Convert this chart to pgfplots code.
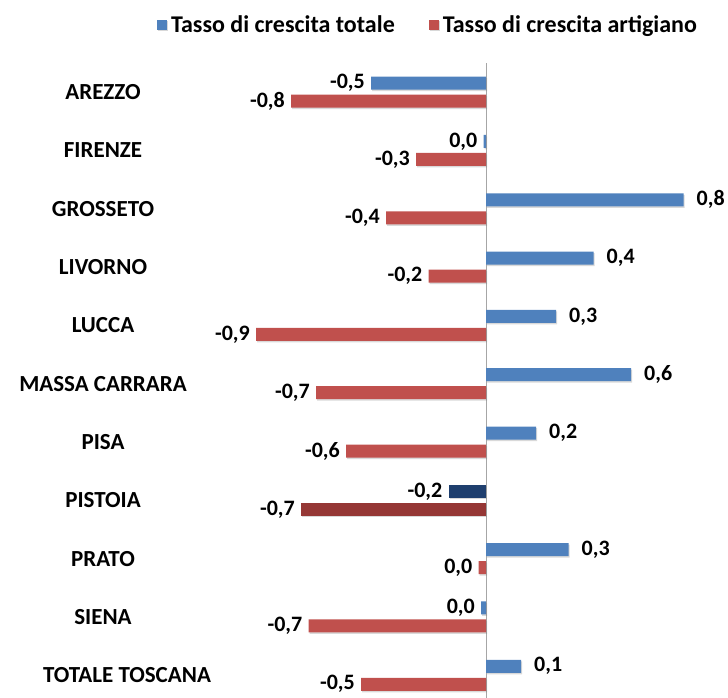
\documentclass[border=0pt]{standalone}
\usepackage{pgfplots}
\pgfplotsset{compat=1.18}
\usepackage{pgfplotstable}
\usepackage{fontspec}
\setmainfont{Carlito}
\usetikzlibrary{shadows}
\definecolor{cblue}{HTML}{4F81BD}
\definecolor{cred}{HTML}{C0504D}
\definecolor{dblue}{HTML}{1F3F6E}
\definecolor{dred}{HTML}{953735}
\pgfplotstableread{
y x lab
8 0.79 0,8
7 0.43 0,4
6 0.28 0,3
5 0.58 0,6
4 0.20 0,2
2 0.33 0,3
0 0.14 0,1
}\totpos
\pgfplotstableread{
y x lab
10 -0.46 -0,5
9 -0.01 0,0
1 -0.02 0,0
}\totneg
\pgfplotstableread{
y x lab
10 -0.78 -0,8
9 -0.28 -0,3
8 -0.40 -0,4
7 -0.23 -0,2
6 -0.92 -0,9
5 -0.68 -0,7
4 -0.56 -0,6
2 -0.03 0,0
1 -0.71 -0,7
0 -0.50 -0,5
}\artig
\pgfplotstableread{
y x lab
3 -0.15 -0,2
}\pistot
\pgfplotstableread{
y x lab
3 -0.74 -0,7
}\pistart
\pgfplotsset{
  mybar/.style 2 args={draw=none, drop shadow={shadow xshift=1pt, shadow yshift=-1.5pt, opacity=0.3},
    point meta=explicit symbolic,
    nodes near coords,
    every node near coord/.append style={anchor=#1, xshift=#2, font=\fontsize{22}{26}\selectfont\bfseries, inner xsep=6pt, inner ysep=0pt, text=black}},
}
\begin{document}
\begin{tikzpicture}
\useasboundingbox (0,0) rectangle (728pt,698pt);
\begin{axis}[
  at={(215pt,0pt)}, anchor=south west,
  scale only axis, width=500pt, height=635pt,
  xmin=-1.084, xmax=0.916, ymin=-0.39, ymax=10.5,
  xbar, bar width=13pt,
  axis line style={draw=none},
  xtick=\empty,
  extra x ticks={0}, extra x tick labels={},
  extra x tick style={grid=major, major grid style={draw=gray!70, line width=0.8pt}, major tick length=0pt},
  ytick={0,...,10},
  yticklabels={\hspace*{48pt}TOTALE TOSCANA,SIENA,PRATO,PISTOIA,PISA,MASSA CARRARA,LUCCA,LIVORNO,GROSSETO,FIRENZE,AREZZO},
  major tick length=0pt,
  yticklabel style={anchor=center, inner sep=0pt, xshift=-112pt, font=\fontsize{23}{27}\selectfont\bfseries},
  clip=false,
  legend columns=2,
  legend style={draw=none, at={(axis description cs:0.426,1.06)}, anchor=center, font=\fontsize{24}{28}\selectfont\bfseries,
    /tikz/every odd column/.append style={column sep=2pt},
    /tikz/every even column/.append style={column sep=32pt}},
  legend image code/.code={\fill[#1] (0pt,-5pt) rectangle (10pt,5pt);},
]
\addplot[fill=cblue, bar shift=9pt, mybar={west}{7pt}] table[x=x, y=y, meta=lab] {\totpos};
\addlegendentry{Tasso di crescita totale}
\addplot[fill=cred, bar shift=-9pt, mybar={east}{0pt}] table[x=x, y=y, meta=lab] {\artig};
\addlegendentry{Tasso di crescita artigiano}
\addplot[fill=cblue, bar shift=9pt, forget plot, mybar={east}{0pt}] table[x=x, y=y, meta=lab] {\totneg};
\addplot[fill=dblue, bar shift=9pt, forget plot, mybar={east}{0pt}] table[x=x, y=y, meta=lab] {\pistot};
\addplot[fill=dred, bar shift=-9pt, forget plot, mybar={east}{0pt}] table[x=x, y=y, meta=lab] {\pistart};
\end{axis}
\end{tikzpicture}
\end{document}
